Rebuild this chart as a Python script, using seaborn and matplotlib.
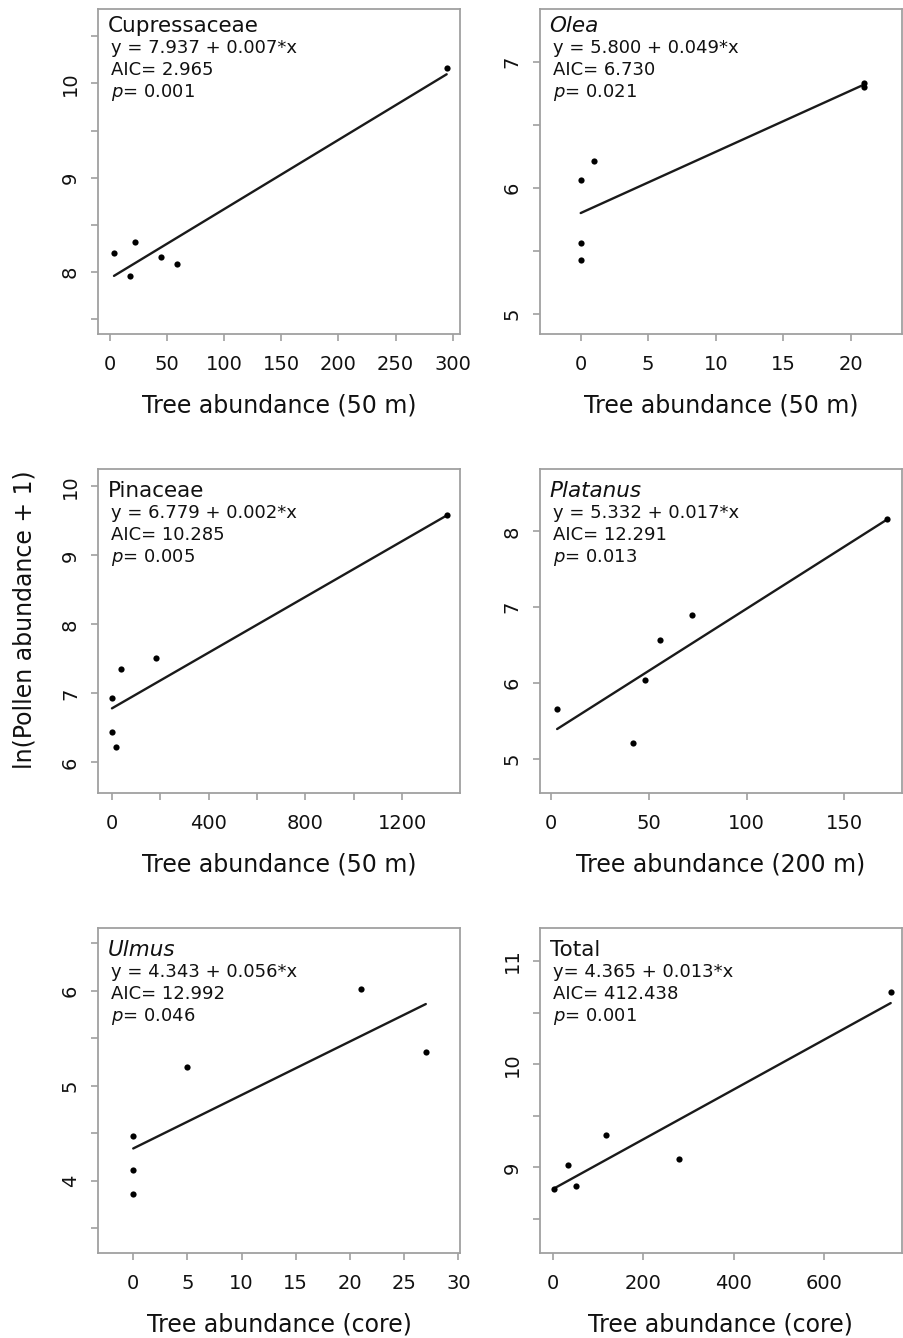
import numpy as np
import pandas as pd
import seaborn as sns
import matplotlib.pyplot as plt

# -----------------------------------------------------------------------------
# Data
# -----------------------------------------------------------------------------
taxa = ["Cupressaceae", "Olea", "Pinaceae", "Platanus", "Ulmus", "Total"]
italic_taxa = ["Olea", "Platanus", "Ulmus"]
x_labels = ["Tree abundance (50 m)", "Tree abundance (50 m)", "Tree abundance (50 m)",
            "Tree abundance (200 m)", "Tree abundance (core)", "Tree abundance (core)"]

cupressaceae_x = [3.5, 21.6, 17.5, 45, 59, 294.7]
cupressaceae_y = [8.20, 8.32, 7.96, 8.16, 8.08, 10.16]
olea_x = [0, 1, 0, 0, 21, 21]
olea_y = [6.06, 6.21, 5.56, 5.43, 6.83, 6.80]
pinaceae_x = [0, 0, 15, 36, 184, 1385]
pinaceae_y = [6.93, 6.44, 6.23, 7.35, 7.52, 9.59]
platanus_x = [3.1, 42, 48, 55.8, 71.9, 171.9]
platanus_y = [5.66, 5.20, 6.04, 6.56, 6.90, 8.17]
ulmus_x = [0, 0, 0, 5, 21, 27]
ulmus_y = [4.47, 4.11, 3.86, 5.20, 6.02, 5.36]
total_x = [1.5, 32.5, 51, 117, 279, 748]
total_y = [8.79, 9.02, 8.82, 9.31, 9.08, 10.70]

# fitted lines as drawn in the figure
line_intercept = [7.931, 5.80, 6.784, 5.34, 4.34, 8.79]
line_slope = [0.00735, 0.0486, 0.00202, 0.0164, 0.0563, 0.00241]

equations = ["y = 7.937 + 0.007*x", "y = 5.800 + 0.049*x", "y = 6.779 + 0.002*x",
             "y = 5.332 + 0.017*x", "y = 4.343 + 0.056*x", "y= 4.365 + 0.013*x"]
aic_values = ["2.965", "6.730", "10.285", "12.291", "12.992", "412.438"]
p_values = ["0.001", "0.021", "0.005", "0.013", "0.046", "0.001"]

# axis ticks / labels
x_ticks = [[0, 50, 100, 150, 200, 250, 300], [0, 5, 10, 15, 20],
           [0, 200, 400, 600, 800, 1000, 1200], [0, 50, 100, 150],
           [0, 5, 10, 15, 20, 25, 30], [0, 200, 400, 600]]
x_ticklabels = [["0", "50", "100", "150", "200", "250", "300"], ["0", "5", "10", "15", "20"],
                ["0", "", "400", "", "800", "", "1200"], ["0", "50", "100", "150"],
                ["0", "5", "10", "15", "20", "25", "30"], ["0", "200", "400", "600"]]
y_ticks = [[7.5, 8, 8.5, 9, 9.5, 10, 10.5], [5, 5.5, 6, 6.5, 7], [6, 7, 8, 9, 10],
           [5, 6, 7, 8], [3.5, 4, 4.5, 5, 5.5, 6, 6.5], [8.5, 9, 9.5, 10, 10.5, 11]]
y_ticklabels = [["", "8", "", "9", "", "10", ""], ["5", "", "6", "", "7"],
                ["6", "7", "8", "9", "10"], ["5", "6", "7", "8"],
                ["", "4", "", "5", "", "6", ""], ["", "9", "", "10", "", "11"]]
x_limits = [(-10.5, 306.8), (-3.05, 23.8), (-57.7, 1441), (-5.9, 179.4), (-3.25, 30.2), (-29.8, 773)]
y_limits = [(7.34, 10.79), (4.84, 7.42), (5.55, 10.26), (4.54, 8.83), (3.24, 6.66), (8.17, 11.32)]

xs = [cupressaceae_x, olea_x, pinaceae_x, platanus_x, ulmus_x, total_x]
ys = [cupressaceae_y, olea_y, pinaceae_y, platanus_y, ulmus_y, total_y]

# -----------------------------------------------------------------------------
# Plot
# -----------------------------------------------------------------------------
sns.set_style("white")
plt.rcParams["font.family"] = ["DejaVu Sans"]
plt.rcParams["mathtext.fontset"] = "dejavusans"

FRAME = "#a0a0a0"
INK = "#111111"

fig, axes = plt.subplots(3, 2, figsize=(9.04, 13.38), dpi=100)
fig.subplots_adjust(left=98 / 904, right=902 / 904, top=1 - 9 / 1338, bottom=1 - 1253 / 1338,
                    wspace=0.218, hspace=0.414)

for i, ax in enumerate(axes.flat):
    df = pd.DataFrame({"x": xs[i], "y": ys[i]})
    xl = np.array([df.x.min(), df.x.max()])
    fit = pd.DataFrame({"x": xl, "y": line_intercept[i] + line_slope[i] * xl})

    sns.lineplot(data=fit, x="x", y="y", ax=ax, color="#1a1a1a", linewidth=1.7)
    sns.scatterplot(data=df, x="x", y="y", ax=ax, color="black", s=20, marker="o",
                    linewidth=0, zorder=3)

    ax.set_xlim(*x_limits[i])
    ax.set_ylim(*y_limits[i])
    ax.set_xticks(x_ticks[i])
    ax.set_xticklabels(x_ticklabels[i])
    ax.set_yticks(y_ticks[i])
    ax.set_yticklabels(y_ticklabels[i], rotation=90, va="center")
    ax.tick_params(axis="both", which="major", bottom=True, left=True, direction="out",
                   length=5, width=1.2, color=FRAME, labelsize=14, labelcolor=INK)
    ax.tick_params(axis="x", pad=10)
    ax.tick_params(axis="y", pad=8)

    for sp in ax.spines.values():
        sp.set_visible(True)
        sp.set_color(FRAME)
        sp.set_linewidth(1.3)

    ax.set_xlabel(x_labels[i], fontsize=17, labelpad=14, color=INK)
    ax.set_ylabel("")

    # panel annotation
    dy = 0 if i < 2 else -5
    style = "italic" if taxa[i] in italic_taxa else "normal"
    ax.annotate(taxa[i], xy=(0, 1), xycoords="axes fraction", xytext=(10, -23 + dy),
                textcoords="offset pixels", va="baseline", ha="left",
                fontsize=15.5, fontstyle=style, color=INK)
    lines = [equations[i], "AIC= " + aic_values[i], r"$\it{p}$= " + p_values[i]]
    for k, txt in enumerate(lines):
        ax.annotate(txt, xy=(0, 1), xycoords="axes fraction",
                    xytext=(13, -44 - 22 * k + dy), textcoords="offset pixels",
                    va="baseline", ha="left", fontsize=13, color=INK)

fig.text(0.027, 1 - 620 / 1338, "ln(Pollen abundance + 1)", rotation=90,
         ha="center", va="center", fontsize=17, color=INK)

plt.savefig("out.png", dpi=100)
